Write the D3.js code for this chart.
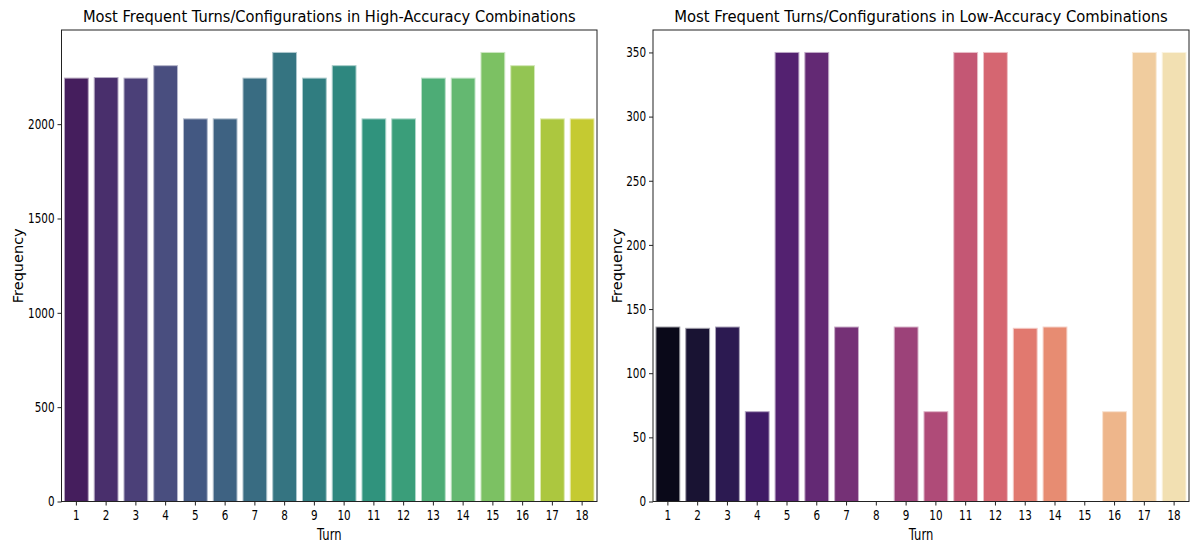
<!DOCTYPE html>
<html>
<head>
<meta charset="utf-8">
<script src="https://cdn.jsdelivr.net/npm/d3@7"></script>
<style>
  html, body { margin: 0; padding: 0; background: #fff; }
  svg text { font-family: "DejaVu Sans", sans-serif; fill: #000; }
</style>
</head>
<body>
<svg id="chart" width="1193" height="546"></svg>
<script>
const turns = ["1","2","3","4","5","6","7","8","9","10","11","12","13","14","15","16","17","18"];
const highFreq = [2244, 2247, 2244, 2310, 2028, 2028, 2244, 2380, 2244, 2310, 2028, 2028, 2244, 2244, 2380, 2310, 2028, 2028];
const lowFreq = [136, 135, 136, 70, 350, 350, 136, 0, 136, 70, 350, 350, 135, 136, 0, 70, 350, 350];
const highTicks = [0, 500, 1000, 1500, 2000];
const lowTicks = [0, 50, 100, 150, 200, 250, 300, 350];
const titles = ["Most Frequent Turns/Configurations in High-Accuracy Combinations",
                "Most Frequent Turns/Configurations in Low-Accuracy Combinations"];
const xLabel = "Turn";
const yLabel = "Frequency";

const svg = d3.select("#chart");
const SX = 0.77; // horizontal squeeze of text in reference

function palette(interp, n) {
  return d3.range(n).map(i => {
    const c = d3.hsl(interp((i + 1) / (n + 1)));
    c.s *= 0.75;
    return c.formatHex();
  });
}

function drawPanel(cfg) {
  const {left, right, top, bottom, values, ticks, interp, title, ylabelX, titleLen} = cfg;
  const g = svg.append("g");
  const x = d3.scaleBand().domain(turns).range([left, right]).paddingInner(0.2).paddingOuter(0.1);
  const ymax = d3.max(values) * 1.05;
  const y = d3.scaleLinear().domain([0, ymax]).range([bottom, top]);
  const cols = palette(interp, turns.length);

  g.selectAll("rect.bar").data(values).join("rect")
    .attr("class", "bar")
    .attr("x", (d, i) => x(turns[i]))
    .attr("width", x.bandwidth())
    .attr("y", d => y(d))
    .attr("height", d => y(0) - y(d))
    .attr("fill", (d, i) => cols[i])
    .attr("stroke", (d, i) => d3.interpolateRgb(cols[i], "#ffffff")(0.6))
    .attr("stroke-width", 1);

  const ya = g.append("g").attr("transform", `translate(${left},0)`)
    .call(d3.axisLeft(y).tickValues(ticks).tickSize(4).tickPadding(3).tickFormat(d3.format("d")));
  const xa = g.append("g").attr("transform", `translate(0,${bottom})`)
    .call(d3.axisBottom(x).tickSize(4).tickPadding(5));
  [ya, xa].forEach(a => {
    a.select(".domain").remove();
    a.selectAll(".tick line").attr("stroke", "#222").attr("stroke-width", 1);
    a.selectAll(".tick text").attr("font-size", 13.5).attr("fill", "#000")
      .attr("font-family", "DejaVu Sans");
  });
  ya.selectAll(".tick text").each(function() {
    const t = d3.select(this);
    const xx = +t.attr("x");
    t.attr("x", xx / SX).attr("transform", `scale(${SX},1)`);
  });
  xa.selectAll(".tick text").attr("transform", `scale(${SX},1)`).attr("x", 0);

  g.append("rect").attr("x", left).attr("y", top)
    .attr("width", right - left).attr("height", bottom - top)
    .attr("fill", "none").attr("stroke", "#222").attr("stroke-width", 1);

  const cx = (left + right) / 2;
  const tt = g.append("text").attr("text-anchor", "middle").attr("font-size", 16).text(title);
  const natural = tt.node().getComputedTextLength();
  const s = titleLen / natural;
  tt.attr("transform", `translate(${cx},22) scale(${s},1)`);

  g.append("text").attr("transform", `translate(${cx},540) scale(${SX},1)`)
    .attr("text-anchor", "middle").attr("font-size", 15)
    .text(xLabel);

  g.append("text").attr("transform", `translate(${ylabelX},${(top + bottom) / 2}) rotate(-90)`)
    .attr("text-anchor", "middle").attr("font-size", 14.5)
    .text(yLabel);
}

drawPanel({left: 61.5, right: 597, top: 30, bottom: 501.5, values: highFreq, ticks: highTicks,
  interp: d3.interpolateViridis, title: titles[0], ylabelX: 23, titleLen: 493});
drawPanel({left: 653, right: 1189, top: 30, bottom: 501.5, values: lowFreq, ticks: lowTicks,
  interp: d3.interpolateMagma, title: titles[1], ylabelX: 622, titleLen: 494});
</script>
</body>
</html>
